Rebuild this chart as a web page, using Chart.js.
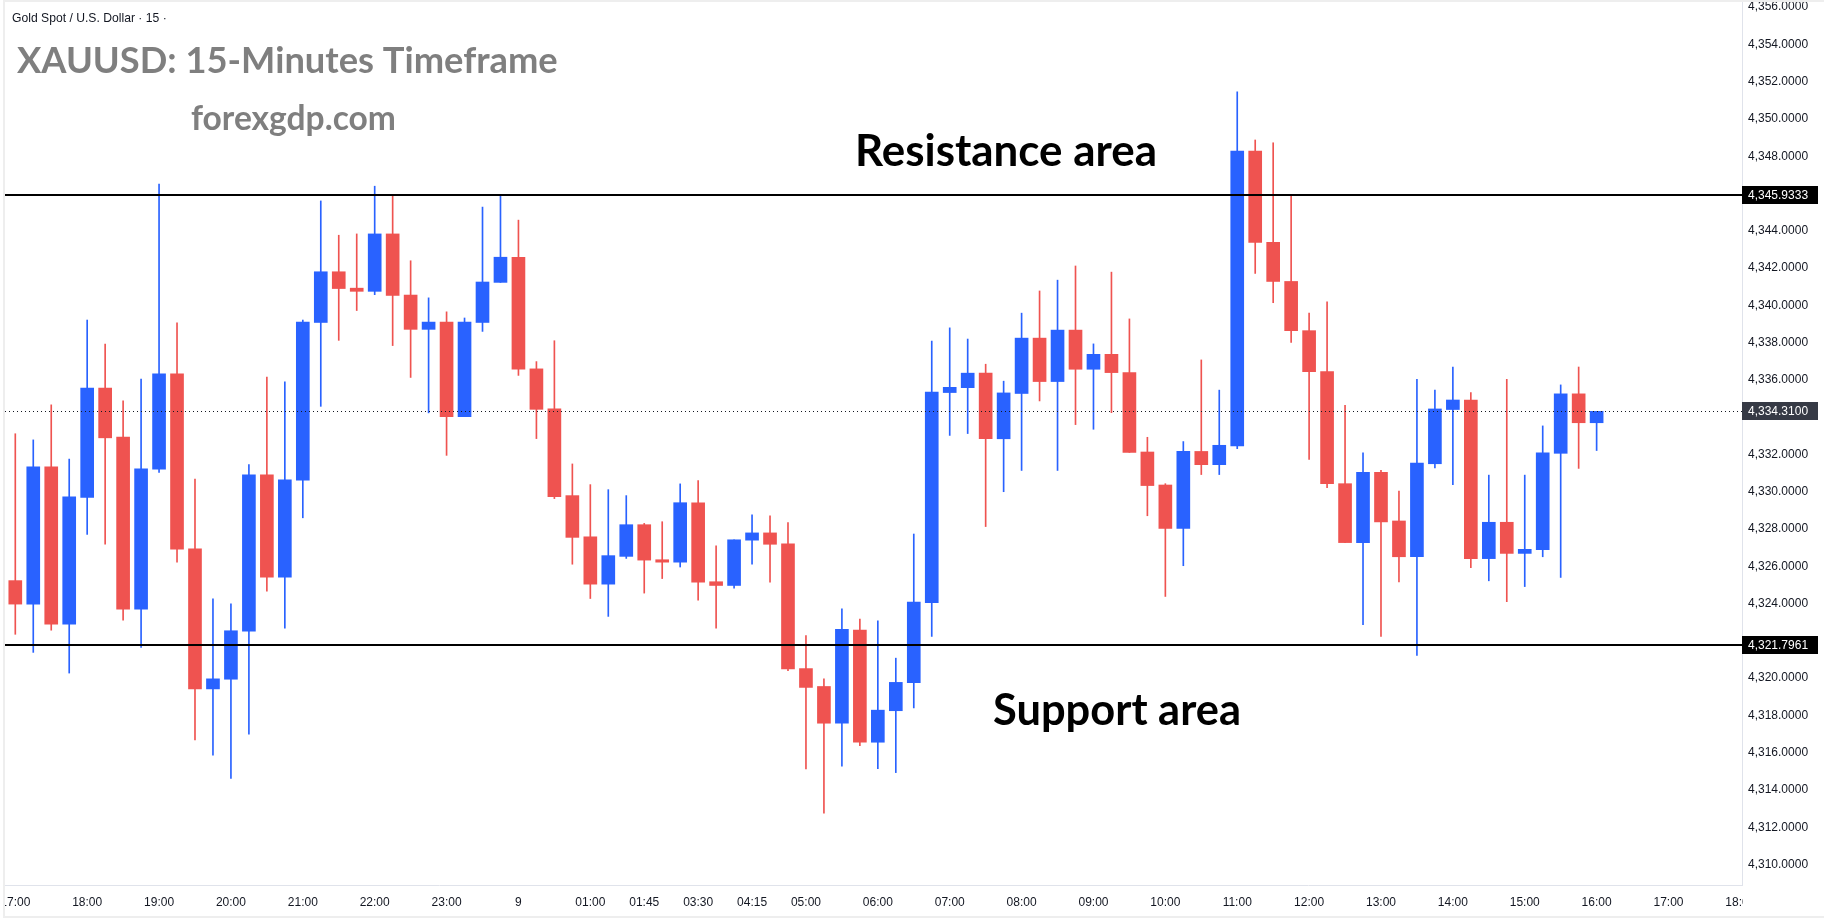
<!DOCTYPE html>
<html lang="en">
<head>
    <meta charset="UTF-8">
    <title>XAUUSD: 15-Minutes Timeframe</title>
    <script src="https://cdn.jsdelivr.net/npm/chart.js"></script>
    <style>
        * {
            margin: 0;
            padding: 0;
            box-sizing: border-box;
        }

        body {
            background-color: #ffffff;
            width: 1824px;
            height: 922px;
            overflow: hidden;
        }

        .chart-box {
            position: relative;
            width: 1824px;
            height: 922px;
        }
    </style>
</head>
<body>
    <div class="chart-box">
        <canvas id="goldChart"></canvas>
    </div>

    <script>
        // ============= CANDLE DATA (15 min) =============
        const opens = [
            4325.23, 4323.97, 4331.34, 4322.89, 4329.70, 4335.56, 4332.93, 4323.70, 4331.21, 4336.33,
            4326.94, 4319.42, 4319.94, 4322.52, 4330.90, 4325.41, 4330.62, 4339.08, 4341.80, 4340.92,
            4340.75, 4343.83, 4340.55, 4338.71, 4339.10, 4334.03, 4339.08, 4341.23, 4342.58, 4336.59,
            4334.44, 4329.79, 4327.58, 4325.04, 4326.53, 4328.23, 4326.35, 4326.22, 4329.41, 4325.17,
            4324.97, 4327.40, 4327.79, 4327.20, 4320.51, 4319.55, 4317.58, 4322.58, 4316.56, 4318.25,
            4319.75, 4324.05, 4335.32, 4335.58, 4336.36, 4332.84, 4335.27, 4338.24, 4335.91, 4338.67,
            4336.57, 4337.37, 4336.39, 4332.13, 4330.36, 4328.03, 4332.16, 4331.45, 4332.46, 4348.27,
            4343.38, 4341.28, 4338.64, 4336.44, 4330.43, 4327.27, 4331.04, 4328.43, 4326.51, 4331.50,
            4334.41, 4334.92, 4326.41, 4328.36, 4326.69, 4326.89, 4332.06, 4335.25, 4333.70
        ];
        const highs = [
            4333.11, 4332.78, 4334.66, 4331.75, 4339.21, 4337.92, 4334.88, 4336.04, 4346.50, 4339.06,
            4330.68, 4324.25, 4323.99, 4331.45, 4336.15, 4335.89, 4339.21, 4345.60, 4343.76, 4343.83,
            4346.39, 4345.89, 4342.39, 4340.40, 4339.65, 4339.32, 4345.27, 4345.93, 4344.57, 4336.98,
            4338.10, 4331.49, 4330.38, 4330.11, 4329.79, 4328.30, 4328.39, 4330.42, 4330.60, 4327.09,
            4327.42, 4328.76, 4328.71, 4328.34, 4322.28, 4319.96, 4323.72, 4323.17, 4323.07, 4321.07,
            4327.73, 4338.08, 4338.79, 4338.19, 4336.84, 4335.93, 4339.58, 4340.77, 4341.35, 4342.11,
            4337.93, 4341.78, 4339.27, 4332.92, 4330.43, 4332.69, 4337.07, 4335.45, 4351.46, 4348.87,
            4348.72, 4345.88, 4339.58, 4340.19, 4334.64, 4332.08, 4331.15, 4330.03, 4336.03, 4335.45,
            4336.69, 4335.32, 4330.89, 4336.03, 4330.89, 4333.53, 4335.73, 4336.69, 4334.28
        ];
        const lows = [
            4322.35, 4321.38, 4322.57, 4320.27, 4327.71, 4327.18, 4323.11, 4321.65, 4331.03, 4326.22,
            4316.68, 4315.87, 4314.62, 4316.99, 4324.67, 4322.68, 4328.60, 4334.58, 4338.12, 4339.72,
            4340.57, 4337.84, 4336.13, 4334.23, 4331.95, 4334.03, 4338.60, 4341.23, 4336.24, 4332.85,
            4329.63, 4326.11, 4324.27, 4323.31, 4326.42, 4324.56, 4325.34, 4325.96, 4324.18, 4322.68,
            4324.82, 4326.11, 4325.15, 4320.40, 4315.13, 4312.76, 4315.28, 4316.38, 4315.14, 4314.93,
            4318.40, 4322.23, 4333.02, 4333.12, 4328.13, 4330.00, 4331.14, 4334.87, 4331.14, 4333.60,
            4333.35, 4334.24, 4332.11, 4328.71, 4324.38, 4326.03, 4330.92, 4330.92, 4332.31, 4341.71,
            4340.14, 4338.01, 4331.73, 4330.21, 4327.27, 4322.86, 4322.23, 4325.16, 4321.22, 4331.27,
            4330.38, 4325.93, 4325.22, 4324.10, 4324.91, 4326.51, 4325.40, 4331.25, 4332.21
        ];
        const closes = [
            4323.97, 4331.34, 4322.89, 4329.72, 4335.56, 4332.89, 4323.70, 4331.23, 4336.33, 4326.92,
            4319.42, 4319.96, 4322.54, 4330.90, 4325.41, 4330.64, 4339.10, 4341.80, 4340.90, 4340.75,
            4343.83, 4340.53, 4338.71, 4339.10, 4334.03, 4339.10, 4341.25, 4342.58, 4336.57, 4334.42,
            4329.74, 4327.55, 4325.04, 4326.57, 4328.23, 4326.33, 4326.22, 4329.41, 4325.15, 4324.97,
            4327.42, 4327.79, 4327.18, 4320.49, 4319.50, 4317.58, 4322.61, 4316.56, 4318.28, 4319.77,
            4324.08, 4335.35, 4335.60, 4336.36, 4332.84, 4335.30, 4338.24, 4335.91, 4338.67, 4336.57,
            4337.37, 4336.39, 4332.11, 4330.33, 4328.03, 4332.16, 4331.45, 4332.49, 4348.27, 4343.38,
            4341.28, 4338.64, 4336.44, 4330.43, 4327.27, 4331.04, 4328.38, 4326.51, 4331.53, 4334.44,
            4334.92, 4326.41, 4328.36, 4326.69, 4326.91, 4332.08, 4335.25, 4333.70, 4334.31
        ];

        // time axis: candle index -> label
        const timeTickIdx = [0, 4, 8, 12, 16, 20, 24, 28, 32, 35, 38, 41, 44, 48, 52, 56, 60, 64, 68, 72, 76, 80, 84, 88, 92, 96];
        const timeTickText = ['17:00', '18:00', '19:00', '20:00', '21:00', '22:00', '23:00', '9', '01:00', '01:45', '03:30', '04:15',
            '05:00', '06:00', '07:00', '08:00', '09:00', '10:00', '11:00', '12:00', '13:00', '14:00', '15:00', '16:00', '17:00', '18:00'];

        // price axis labels (the ones under the tags are left out)
        const priceTicks = [4310, 4312, 4314, 4316, 4318, 4320, 4324, 4326, 4328, 4330, 4332, 4336, 4338, 4340,
            4342, 4344, 4348, 4350, 4352, 4354, 4356];

        const resistanceLevel = 4345.9333;
        const supportLevel = 4321.7961;
        const lastPrice = 4334.31;
        // =====================================================================

        const upColor = '#2962FF';
        const downColor = '#EF5350';
        const textColor = '#131722';

        const isUp = i => closes[i] >= opens[i];
        const candleColor = ctx => isUp(ctx.dataIndex) ? upColor : downColor;
        const fmtPrice = v => v.toLocaleString('en-US', { minimumFractionDigits: 4, maximumFractionDigits: 4 });

        // draw text scaled so it fills a given width
        function fitText(ctx, text, weight, family, width, x, baseline, color) {
            ctx.font = `${weight} 40px ${family}`;
            const size = 40 * width / ctx.measureText(text).width;
            ctx.font = `${weight} ${size}px ${family}`;
            ctx.fillStyle = color;
            ctx.textAlign = 'left';
            ctx.textBaseline = 'alphabetic';
            ctx.fillText(text, x, baseline);
        }

        function priceTag(ctx, area, y, value, bg) {
            ctx.fillStyle = bg;
            ctx.fillRect(area.right, Math.round(y) - 9, 76, 18);
            ctx.fillStyle = '#ffffff';
            ctx.font = '12px "Liberation Sans"';
            ctx.textAlign = 'left';
            ctx.textBaseline = 'middle';
            ctx.fillText(fmtPrice(value), area.right + 6, Math.round(y) + 1);
        }

        const levelsPlugin = {
            id: 'levels',
            afterDatasetsDraw(chart) {
                const { ctx, chartArea: a, scales: { y } } = chart;
                ctx.save();
                // last price dotted line
                const yl = Math.round(y.getPixelForValue(lastPrice)) + 0.5;
                ctx.strokeStyle = '#131722';
                ctx.lineWidth = 1;
                ctx.setLineDash([1, 3]);
                ctx.beginPath();
                ctx.moveTo(a.left, yl);
                ctx.lineTo(a.right, yl);
                ctx.stroke();
                // resistance / support
                ctx.setLineDash([]);
                ctx.strokeStyle = '#000000';
                ctx.lineWidth = 2;
                for (const lv of [resistanceLevel, supportLevel]) {
                    const yy = Math.round(y.getPixelForValue(lv));
                    ctx.beginPath();
                    ctx.moveTo(a.left, yy);
                    ctx.lineTo(a.right, yy);
                    ctx.stroke();
                }
                ctx.restore();
            },
            afterDraw(chart) {
                const { ctx, chartArea: a, scales: { y } } = chart;
                ctx.save();
                // clip the time labels that run past the plot
                ctx.fillStyle = '#ffffff';
                ctx.fillRect(a.right + 1, a.bottom + 1, chart.width - a.right, chart.height - a.bottom);
                ctx.fillRect(0, a.bottom + 1, a.left, chart.height - a.bottom);
                // frame
                ctx.fillStyle = '#EEEEEE';
                ctx.fillRect(3, 0, 2, 917);
                ctx.fillRect(3, 0, chart.width, 2);
                ctx.fillRect(3, 916, chart.width, 2);

                priceTag(ctx, a, y.getPixelForValue(resistanceLevel), resistanceLevel, '#000000');
                priceTag(ctx, a, y.getPixelForValue(lastPrice), lastPrice, '#363A45');
                priceTag(ctx, a, y.getPixelForValue(supportLevel), supportLevel, '#000000');

                fitText(ctx, 'Gold Spot / U.S. Dollar · 15 ·', '400', '"Liberation Sans"', 155, 12, 22, textColor);
                fitText(ctx, 'XAUUSD: 15-Minutes Timeframe', '700', 'Lato', 541, 17, 73, '#7F7F7F');
                fitText(ctx, 'forexgdp.com', '700', 'Lato', 205, 191, 130, '#7F7F7F');
                fitText(ctx, 'Resistance area', '700', 'Lato', 302, 855, 166, '#000000');
                fitText(ctx, 'Support area', '700', 'Lato', 248, 993, 725, '#000000');
                ctx.restore();
            }
        };

        const idx = opens.map((_, i) => i);
        const axisFont = { family: 'Liberation Sans', size: 12 };

        new Chart(document.getElementById('goldChart'), {
            type: 'bar',
            data: {
                datasets: [
                    {
                        label: 'Wicks',
                        data: idx.map(i => ({ x: i, y: [lows[i], highs[i]] })),
                        backgroundColor: candleColor,
                        barThickness: 1,
                        grouped: false,
                        order: 2
                    },
                    {
                        label: 'Bodies',
                        data: idx.map(i => ({ x: i, y: [opens[i], closes[i]] })),
                        backgroundColor: candleColor,
                        barThickness: 13,
                        grouped: false,
                        order: 1
                    }
                ]
            },
            options: {
                responsive: true,
                maintainAspectRatio: false,
                animation: false,
                layout: {
                    autoPadding: false,
                    padding: { left: 5, top: 0, right: 0, bottom: 5 }
                },
                plugins: {
                    legend: { display: false },
                    tooltip: { enabled: false }
                },
                scales: {
                    x: {
                        type: 'linear',
                        min: -0.573,
                        max: 96.09,
                        offset: false,
                        grid: { display: false, drawTicks: false, offset: false },
                        border: { color: '#E0E3EB' },
                        afterFit: s => {
                            s.height = 32;
                            s.paddingLeft = 0;
                            s.paddingRight = 0;
                        },
                        afterBuildTicks: s => { s.ticks = timeTickIdx.map(v => ({ value: v })); },
                        ticks: {
                            autoSkip: false,
                            maxRotation: 0,
                            padding: 10,
                            color: textColor,
                            font: axisFont,
                            callback: v => timeTickText[timeTickIdx.indexOf(v)]
                        }
                    },
                    y: {
                        position: 'right',
                        min: 4308.90,
                        max: 4356.38,
                        grid: { display: false, drawTicks: false },
                        border: { color: '#E0E3EB' },
                        afterFit: s => {
                            s.width = 82;
                            s.paddingTop = 0;
                            s.paddingBottom = 0;
                        },
                        afterBuildTicks: s => { s.ticks = priceTicks.map(v => ({ value: v })); },
                        ticks: {
                            padding: 6,
                            color: textColor,
                            font: axisFont,
                            callback: v => fmtPrice(v)
                        }
                    }
                }
            },
            plugins: [levelsPlugin]
        });
    </script>
</body>
</html>
